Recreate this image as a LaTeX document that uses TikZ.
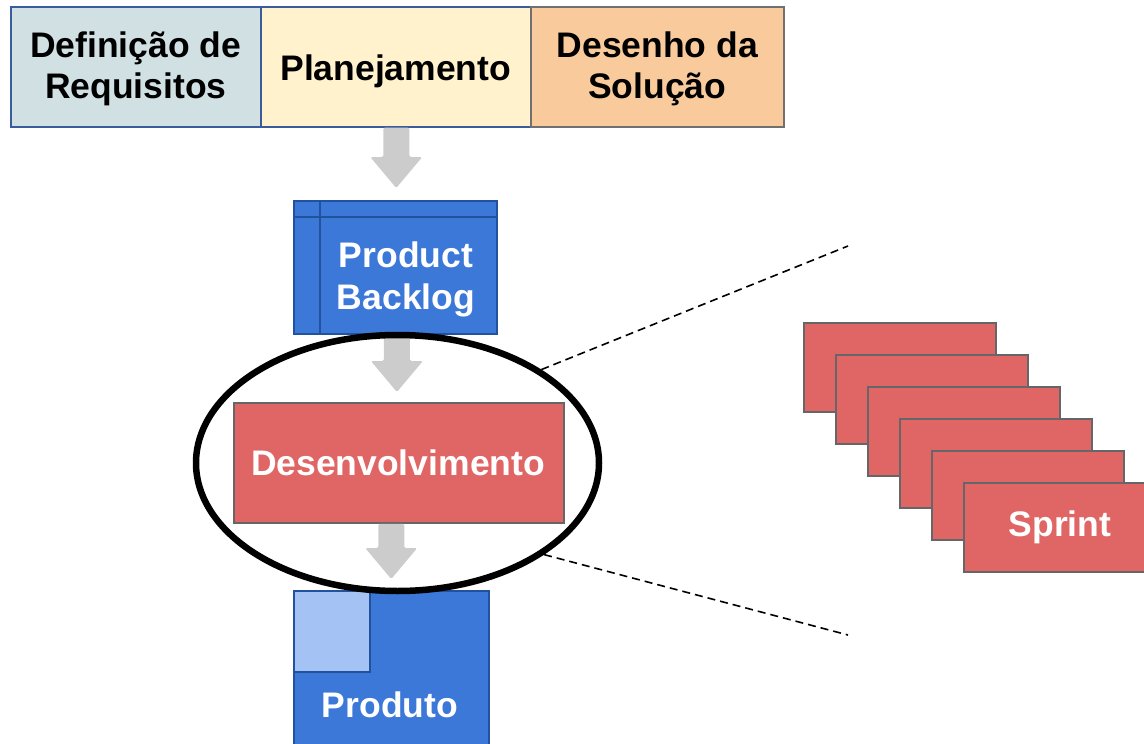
\documentclass[tikz,border=0pt]{standalone}
\usepackage{fontspec}
\setmainfont{Liberation Sans}
\usetikzlibrary{shapes.geometric,calc}
\definecolor{reqfill}{HTML}{D0E0E3}
\definecolor{planfill}{HTML}{FFF2CC}
\definecolor{solfill}{HTML}{F9CB9C}
\definecolor{phaseblue}{HTML}{3A5C9C}
\definecolor{phasegray}{HTML}{707070}
\definecolor{bluefill}{HTML}{3C78D8}
\definecolor{blueline}{HTML}{22519E}
\definecolor{lightblue}{HTML}{A4C2F4}
\definecolor{redfill}{HTML}{E06666}
\definecolor{boxgray}{HTML}{666666}
\definecolor{arrowgray}{HTML}{CCCCCC}
\newcommand\blockarrow[2]{%
  \fill[arrowgray, rounded corners=1.5pt] let \p1=#1, \p2=#2 in
    (\x2-13pt,\y1) -- (\x2+13pt,\y1) -- (\x2+13pt,\y2+31pt) -- (\x2+26pt,\y2+31pt)
    -- (\x2,\y2) -- (\x2-26pt,\y2+31pt) -- (\x2-13pt,\y2+31pt) -- cycle;}
\tikzset{
  bigtext/.style={font=\bfseries\fontsize{35.5}{41}\selectfont, align=center},
  phase/.style={draw, line width=1.5pt, minimum height=120pt, anchor=north west, inner sep=0pt},
  phasetext/.style={bigtext, text=black, inner sep=0pt},
  bluebox/.style={draw=blueline, fill=bluefill, line width=1.5pt, anchor=north west, inner sep=0pt},
  redbox/.style={draw=boxgray, fill=redfill, line width=1.8pt, anchor=north west, inner sep=0pt, bigtext, text=white},
  whitetext/.style={bigtext, text=white, inner sep=0pt},
  dashline/.style={line width=1.6pt, dash pattern=on 8pt off 5pt},
}
\begin{document}
\begin{tikzpicture}[x=1pt,y=-1pt]
\useasboundingbox (0,0) rectangle (1144,744);
% phases
\node[phase, fill=reqfill, draw=phaseblue, minimum width=250pt] (req) at (10,6) {};
\node[phase, fill=planfill, draw=phaseblue, minimum width=270pt] (plan) at (260,6) {};
\node[phase, fill=solfill, draw=phasegray, minimum width=253pt] (sol) at (530,6) {};
\node[phasetext] (reqtxt) at ($(req.center)+(0,2.5)$) {Definição de\\Requisitos};
\node[phasetext] (plantxt) at ($(plan.center)+(0,5)$) {Planejamento};
\node[phasetext] (soltxt) at ($(sol.center)+(0,2.5)$) {Desenho da\\Solução};
% boxes
\node[bluebox, minimum width=203pt, minimum height=133pt] (backlog) at (293,200) {};
\draw[blueline, line width=1.5pt] ($(backlog.north west)+(0,17)$) -- ($(backlog.north east)+(0,17)$);
\draw[blueline, line width=1.5pt] ($(backlog.north west)+(27,0)$) -- ($(backlog.south west)+(27,0)$);
\node[whitetext, font=\bfseries\fontsize{35.5}{42}\selectfont] (backlogtxt) at (406,279) {Product\\Backlog};
\node[redbox, minimum width=330pt, minimum height=120pt] (dev) at (233,402) {};
\node[whitetext] (devtxt) at (398,463) {Desenvolvimento};
\node[bluebox, minimum width=195pt, minimum height=165pt] (prod) at (293,590) {};
\node[draw=blueline, fill=lightblue, line width=1.5pt, anchor=north west, inner sep=0pt, minimum width=76pt, minimum height=81pt] (prodsq) at (prod.north west) {};
\node[whitetext] (prodtxt) at (390,704.5) {Produto};
% arrows
\blockarrow{(plan.south)}{($(backlog.north)+(1,-12)$)}
\blockarrow{(backlog.south)}{($(dev.north)+(-2,-10)$)}
\blockarrow{(dev.south)}{($(prod.north)+(0,-11)$)}
% zoom lines and ellipse
\node[draw, ellipse, line width=6.5pt, minimum width=403pt, minimum height=256pt, inner sep=0pt] (ell) at (397.5,463) {};
\coordinate (zt) at (848,246);
\coordinate (zb) at (848,635);
\draw[dashline] (ell.33) -- (zt);
\draw[dashline] (ell.-32) -- (zb);
% sprints
\foreach \k in {0,...,4} {
  \node[redbox, minimum width=192pt, minimum height=89pt] (s\k) at (803+32*\k,322+32*\k) {};
}
\node[redbox, minimum width=192pt, minimum height=89pt] (s5) at (963,482) {Sprint};
\end{tikzpicture}
\end{document}
